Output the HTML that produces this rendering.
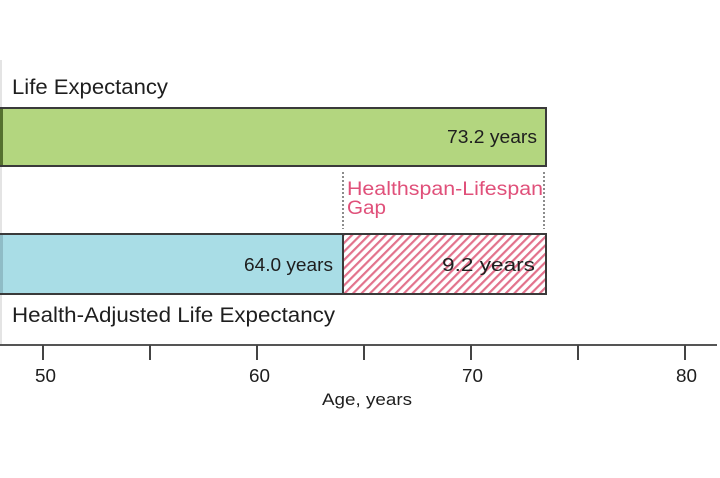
<!DOCTYPE html>
<html>
<head>
<meta charset="utf-8">
<style>
  html, body { margin: 0; padding: 0; background: #ffffff; }
  svg { display: block; }
  text { font-family: "Liberation Sans", Arial, sans-serif; fill: #1e1e1e; }
</style>
</head>
<body>
<svg width="720" height="478" viewBox="0 0 720 478" xmlns="http://www.w3.org/2000/svg">
  <defs>
    <pattern id="hatch" patternUnits="userSpaceOnUse" width="6" height="6" patternTransform="rotate(45)">
      <rect width="6" height="6" fill="#ffffff"/>
      <rect x="0" y="0" width="2.2" height="6" fill="#e2728c"/>
    </pattern>
  </defs>

  <!-- faint page edge -->
  <rect x="0" y="60" width="2" height="285" fill="#e4e4e4"/>

  <!-- Life Expectancy label -->
  <text x="12" y="94" font-size="21" textLength="156" lengthAdjust="spacingAndGlyphs">Life Expectancy</text>

  <!-- Green bar -->
  <rect x="-2" y="108" width="548" height="58" fill="#b3d67f" stroke="#3a3a3a" stroke-width="2"/>
  <rect x="0" y="109" width="3" height="56" fill="#55702f"/>
  <text x="537" y="143" font-size="18" text-anchor="end" textLength="90" lengthAdjust="spacingAndGlyphs">73.2 years</text>

  <!-- Dotted gap lines -->
  <line x1="343" y1="172" x2="343" y2="229" stroke="#666" stroke-width="1.5" stroke-dasharray="2,2"/>
  <line x1="544" y1="172" x2="544" y2="229" stroke="#666" stroke-width="1.5" stroke-dasharray="2,2"/>
  <text x="347" y="195" font-size="19" style="fill:#e0507a" textLength="196" lengthAdjust="spacingAndGlyphs">Healthspan-Lifespan</text>
  <text x="347" y="214" font-size="19" style="fill:#e0507a" textLength="39" lengthAdjust="spacingAndGlyphs">Gap</text>

  <!-- Blue bar -->
  <rect x="-2" y="234" width="345" height="60" fill="#a9dde6" stroke="#3a3a3a" stroke-width="2"/>
  <rect x="0" y="235" width="3" height="58" fill="#8fbcc6"/>
  <text x="333" y="271" font-size="18" text-anchor="end" textLength="89" lengthAdjust="spacingAndGlyphs">64.0 years</text>

  <!-- Hatched gap bar -->
  <rect x="343" y="234" width="203" height="60" fill="url(#hatch)" stroke="#3a3a3a" stroke-width="2"/>
  <text x="535" y="271" font-size="18" text-anchor="end" textLength="93" lengthAdjust="spacingAndGlyphs">9.2 years</text>

  <!-- HALE label -->
  <text x="12" y="322" font-size="21" textLength="323" lengthAdjust="spacingAndGlyphs">Health-Adjusted Life Expectancy</text>

  <!-- Axis -->
  <line x1="0" y1="345" x2="717" y2="345" stroke="#555" stroke-width="2"/>
  <g stroke="#444" stroke-width="2">
    <line x1="43" y1="345" x2="43" y2="360"/>
    <line x1="150" y1="345" x2="150" y2="360"/>
    <line x1="257" y1="345" x2="257" y2="360"/>
    <line x1="364" y1="345" x2="364" y2="360"/>
    <line x1="471" y1="345" x2="471" y2="360"/>
    <line x1="578" y1="345" x2="578" y2="360"/>
    <line x1="685" y1="345" x2="685" y2="360"/>
  </g>
  <g font-size="18">
    <text x="35" y="382" textLength="21" lengthAdjust="spacingAndGlyphs">50</text>
    <text x="249" y="382" textLength="21" lengthAdjust="spacingAndGlyphs">60</text>
    <text x="462" y="382" textLength="21" lengthAdjust="spacingAndGlyphs">70</text>
    <text x="676" y="382" textLength="21" lengthAdjust="spacingAndGlyphs">80</text>
  </g>
  <text x="322" y="405" font-size="17" textLength="90" lengthAdjust="spacingAndGlyphs">Age, years</text>
</svg>
</body>
</html>
